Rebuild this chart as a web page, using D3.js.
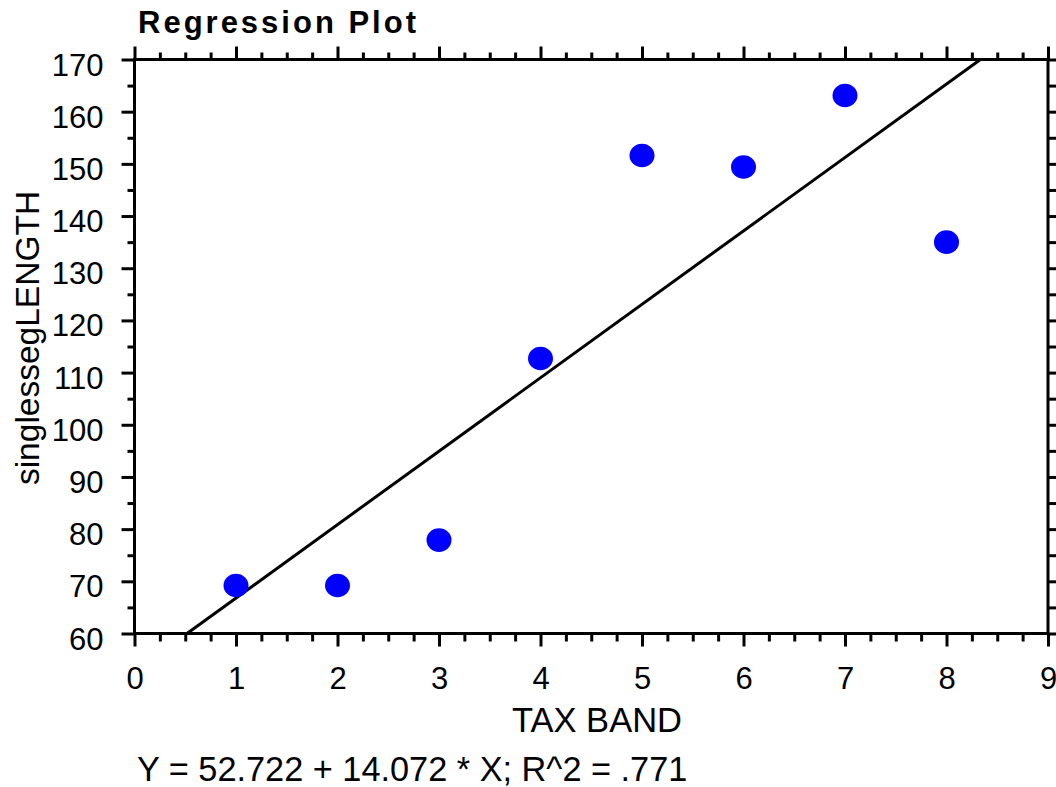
<!DOCTYPE html>
<html>
<head>
<meta charset="utf-8">
<script src="https://cdn.jsdelivr.net/npm/d3@7"></script>
<style>
  body { margin: 0; background: #fff; }
  text { font-family: "Liberation Sans", Arial, sans-serif; fill: #000; }
</style>
</head>
<body>
<svg id="chart" width="1056" height="787"></svg>
<script>
// data
const taxBand = [1, 2, 3, 4, 5, 6, 7, 8];
const lengthValues = [69.2, 69.2, 77.9, 112.7, 151.6, 149.4, 163.1, 135.0];
const xTicks = [0, 1, 2, 3, 4, 5, 6, 7, 8, 9];
const yTicks = [60, 70, 80, 90, 100, 110, 120, 130, 140, 150, 160, 170];
const intercept = 52.722;
const slope = 14.072;
const rSquared = '.771';

const svg = d3.select('#chart');
const plotLeft = 134.5, plotRight = 1048, plotTop = 59.5, plotBottom = 633.5;
const fontFamily = '"Liberation Sans", Arial, sans-serif';

const x = d3.scaleLinear().domain([0, 9]).range([plotLeft, plotRight]);
const y = d3.scaleLinear().domain([60, 170]).range([plotBottom, plotTop]);

const xMinor = d3.range(0, 9.01, 0.25).filter(v => Math.abs(v - Math.round(v)) > 1e-6);
const yMinor = d3.range(65, 170, 10);

function styleAxis(g) {
  g.select('.domain').remove();
  g.selectAll('.tick line').attr('stroke', '#000').attr('stroke-width', 3);
}

// bottom axis
svg.append('g')
  .attr('transform', `translate(0,${plotBottom})`)
  .call(d3.axisBottom(x).tickValues(xTicks).tickSize(13).tickFormat(d3.format('d')))
  .call(styleAxis)
  .call(g => g.selectAll('text').attr('y', 55).attr('dy', 0)
    .style('font-size', '31px').style('font-family', fontFamily));
svg.append('g')
  .attr('transform', `translate(0,${plotBottom})`)
  .call(d3.axisBottom(x).tickValues(xMinor).tickSize(8).tickFormat(''))
  .call(styleAxis);

// top axis
svg.append('g')
  .attr('transform', `translate(0,${plotTop})`)
  .call(d3.axisTop(x).tickValues(xTicks).tickSize(13).tickFormat(''))
  .call(styleAxis);
svg.append('g')
  .attr('transform', `translate(0,${plotTop})`)
  .call(d3.axisTop(x).tickValues(xMinor).tickSize(7).tickFormat(''))
  .call(styleAxis);

// left axis
svg.append('g')
  .attr('transform', `translate(${plotLeft},0)`)
  .call(d3.axisLeft(y).tickValues(yTicks).tickSize(13).tickFormat(d3.format('d')))
  .call(styleAxis)
  .call(g => g.selectAll('text').attr('x', -31).attr('dy', '0.5em')
    .style('font-size', '31px').style('font-family', fontFamily));
svg.append('g')
  .attr('transform', `translate(${plotLeft},0)`)
  .call(d3.axisLeft(y).tickValues(yMinor).tickSize(7).tickFormat(''))
  .call(styleAxis);

// right axis
svg.append('g')
  .attr('transform', `translate(${plotRight},0)`)
  .call(d3.axisRight(y).tickValues(yTicks.concat(yMinor)).tickSize(8).tickFormat(''))
  .call(styleAxis);

// frame
svg.append('rect')
  .attr('x', plotLeft).attr('y', plotTop)
  .attr('width', plotRight - plotLeft).attr('height', plotBottom - plotTop)
  .attr('fill', 'none').attr('stroke', '#000').attr('stroke-width', 3);

// regression line, clipped to y domain
const [y0, y1] = y.domain();
const lineX = [(y0 - intercept) / slope, (y1 - intercept) / slope];
svg.append('line')
  .attr('x1', x(lineX[0])).attr('y1', y(intercept + slope * lineX[0]))
  .attr('x2', x(lineX[1])).attr('y2', y(intercept + slope * lineX[1]))
  .attr('stroke', '#000').attr('stroke-width', 3);

// points
svg.append('g').selectAll('ellipse')
  .data(taxBand.map((d, i) => ({ x: d, y: lengthValues[i] })))
  .join('ellipse')
  .attr('cx', d => x(d.x))
  .attr('cy', d => y(d.y))
  .attr('rx', 12.5)
  .attr('ry', 11.8)
  .attr('fill', '#0000ff');

// title and labels
svg.append('text')
  .attr('x', 138).attr('y', 33)
  .style('font-size', '31px').style('font-weight', 'bold').style('letter-spacing', '3px')
  .text('Regression Plot');

svg.append('text')
  .attr('x', 597).attr('y', 732)
  .attr('text-anchor', 'middle')
  .style('font-size', '34.5px')
  .text('TAX BAND');

svg.append('text')
  .attr('transform', 'translate(39,338) rotate(-90)')
  .attr('text-anchor', 'middle')
  .style('font-size', '33.5px')
  .text('singlessegLENGTH');

svg.append('text')
  .attr('x', 137).attr('y', 781)
  .style('font-size', '34.3px')
  .text(`Y = ${intercept} + ${slope} * X; R^2 = ${rSquared}`);
</script>
</body>
</html>
